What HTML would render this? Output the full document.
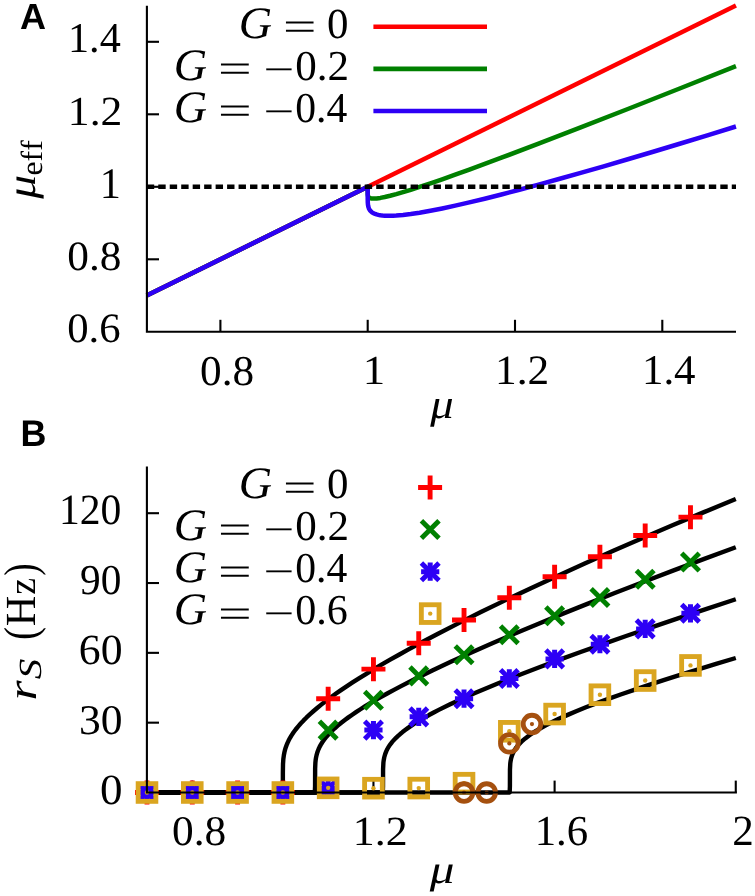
<!DOCTYPE html><html><head><meta charset="utf-8"><style>html,body{margin:0;padding:0;background:#fff;}svg text{font-kerning:none;text-rendering:geometricPrecision;} svg{will-change:transform;}</style></head><body><svg width="755" height="896" viewBox="0 0 755 896" style="display:block">
<rect width="755" height="896" fill="#fff"/>
<line x1="146.9" y1="259.30" x2="159" y2="259.30" stroke="#000" stroke-width="2.1"/>
<line x1="146.9" y1="186.80" x2="159" y2="186.80" stroke="#000" stroke-width="2.1"/>
<line x1="146.9" y1="114.30" x2="159" y2="114.30" stroke="#000" stroke-width="2.1"/>
<line x1="146.9" y1="41.80" x2="159" y2="41.80" stroke="#000" stroke-width="2.1"/>
<line x1="220.40" y1="331.8" x2="220.40" y2="319.8" stroke="#000" stroke-width="2.1"/>
<line x1="367.70" y1="331.8" x2="367.70" y2="319.8" stroke="#000" stroke-width="2.1"/>
<line x1="515.00" y1="331.8" x2="515.00" y2="319.8" stroke="#000" stroke-width="2.1"/>
<line x1="662.30" y1="331.8" x2="662.30" y2="319.8" stroke="#000" stroke-width="2.1"/>
<path d="M146.75,295.55 L735.95,5.55" fill="none" stroke="#ff0000" stroke-width="4.5" stroke-linejoin="round"/>
<path d="M146.75,295.55 L367.70,186.80 L367.71,193.04 L367.77,194.55 L367.99,195.80 L368.29,196.54 L368.88,197.31 L369.47,197.75 L370.06,198.04 L370.65,198.24 L371.53,198.43 L373.59,198.59 L376.54,198.44 L380.37,197.91 L384.79,197.04 L390.09,195.79 L396.28,194.14 L403.05,192.17 L410.71,189.82 L419.55,186.97 L430.45,183.33 L442.23,179.27 L455.20,174.68 L469.34,169.58 L501.45,157.72 L538.57,143.67 L580.70,127.43 L627.83,109.00 L679.68,88.50 L735.95,66.04" fill="none" stroke="#008000" stroke-width="4.5" stroke-linejoin="round"/>
<path d="M146.75,295.55 L367.70,186.80 L367.71,199.28 L367.77,202.34 L367.99,204.95 L368.29,206.56 L368.88,208.39 L369.47,209.57 L370.06,210.44 L370.65,211.13 L371.53,211.95 L372.41,212.59 L373.59,213.27 L375.07,213.93 L376.54,214.43 L378.31,214.88 L380.37,215.25 L382.43,215.51 L384.79,215.70 L387.44,215.80 L390.09,215.80 L393.04,215.72 L396.28,215.54 L403.05,214.95 L410.71,214.01 L419.55,212.67 L430.45,210.75 L442.23,208.42 L455.20,205.63 L469.34,202.39 L484.66,198.70 L501.45,194.47 L519.42,189.78 L538.57,184.64 L558.90,179.03 L580.70,172.89 L603.67,166.29 L627.83,159.24 L653.17,151.72 L679.68,143.75 L707.37,135.32 L735.95,126.52" fill="none" stroke="#2d00f5" stroke-width="4.5" stroke-linejoin="round"/>
<line x1="146.8" y1="186.80" x2="736" y2="186.80" stroke="#000" stroke-width="4.5" stroke-dasharray="7.4 4.07"/>
<line x1="373.4" y1="26.8" x2="487" y2="26.8" stroke="#ff0000" stroke-width="4.6"/>
<line x1="373.4" y1="68.9" x2="487" y2="68.9" stroke="#008000" stroke-width="4.6"/>
<line x1="373.4" y1="111.0" x2="487" y2="111.0" stroke="#2d00f5" stroke-width="4.6"/>
<path d="M146.9,5.8 V332.85 M145.85,331.8 H736.0" stroke="#000" stroke-width="2.1" fill="none"/>
<line x1="146.9" y1="722.67" x2="159" y2="722.67" stroke="#000" stroke-width="2.1"/>
<line x1="146.9" y1="652.85" x2="159" y2="652.85" stroke="#000" stroke-width="2.1"/>
<line x1="146.9" y1="583.02" x2="159" y2="583.02" stroke="#000" stroke-width="2.1"/>
<line x1="146.9" y1="513.20" x2="159" y2="513.20" stroke="#000" stroke-width="2.1"/>
<line x1="192.29" y1="792.5" x2="192.29" y2="780.6" stroke="#000" stroke-width="2.1"/>
<line x1="373.45" y1="792.5" x2="373.45" y2="780.6" stroke="#000" stroke-width="2.1"/>
<line x1="554.61" y1="792.5" x2="554.61" y2="780.6" stroke="#000" stroke-width="2.1"/>
<line x1="735.77" y1="792.5" x2="735.77" y2="780.6" stroke="#000" stroke-width="2.1"/>
<path d="M147.00,792.50 L282.87,792.50 L282.87,772.46 L283.01,764.16 L283.32,759.29 L283.89,754.95 L284.48,751.98 L285.07,749.66 L285.66,747.72 L286.54,745.23 L287.42,743.09 L288.60,740.58 L290.07,737.83 L291.54,735.38 L293.60,732.29 L295.66,729.50 L298.02,726.58 L300.67,723.54 L303.61,720.40 L306.56,717.46 L310.09,714.14 L313.62,710.99 L317.45,707.74 L321.57,704.40 L325.99,700.96 L330.70,697.44 L335.70,693.83 L341.00,690.14 L346.59,686.36 L352.19,682.68 L358.96,678.36 L366.32,673.78 L373.97,669.16 L381.92,664.46 L390.16,659.71 L398.99,654.72 L408.12,649.67 L417.54,644.55 L437.56,633.96 L458.75,623.10 L481.42,611.82 L505.56,600.11 L530.88,588.14 L557.37,575.89 L584.75,563.50 L613.31,550.84 L642.74,538.04 L673.07,525.10 L703.98,512.15 L735.77,499.05" fill="none" stroke="#000" stroke-width="4.4" stroke-linejoin="round"/>
<path d="M147.00,792.50 L314.80,792.50 L315.08,786.06 L315.13,768.54 L315.39,762.66 L315.68,759.84 L315.98,757.90 L316.57,755.09 L317.15,752.96 L317.74,751.20 L318.63,748.98 L319.61,746.88 L320.69,744.88 L322.16,742.48 L323.93,739.95 L325.69,737.68 L327.75,735.27 L329.81,733.05 L332.17,730.70 L334.82,728.23 L337.76,725.66 L341.00,723.00 L344.53,720.25 L348.06,717.64 L351.89,714.93 L356.01,712.13 L360.43,709.25 L364.84,706.47 L369.85,703.42 L374.85,700.46 L380.74,697.09 L387.22,693.48 L393.99,689.82 L401.05,686.09 L416.36,678.31 L432.85,670.27 L450.81,661.84 L470.23,653.00 L491.14,643.78 L513.21,634.29 L536.77,624.41 L561.79,614.14 L587.99,603.60 L615.37,592.79 L643.92,581.72 L673.65,570.38 L704.27,558.88 L735.77,547.23" fill="none" stroke="#000" stroke-width="4.4" stroke-linejoin="round"/>
<path d="M147.00,792.50 L382.80,792.50 L383.03,786.06 L383.08,769.02 L383.39,762.81 L383.48,761.92 L383.69,760.36 L384.27,757.24 L385.16,754.12 L386.34,751.11 L387.22,749.29 L388.10,747.70 L389.28,745.83 L390.75,743.76 L392.22,741.92 L393.99,739.91 L395.76,738.08 L397.82,736.11 L400.17,734.02 L402.53,732.08 L405.18,730.03 L408.12,727.88 L411.06,725.85 L414.30,723.72 L421.37,719.38 L429.02,715.04 L433.73,712.51 L438.74,709.92 L449.63,704.55 L461.70,698.92 L474.94,693.06 L489.37,686.95 L504.97,680.58 L521.75,673.96 L540.00,666.98 L559.73,659.63 L580.63,652.03 L603.00,644.06 L626.85,635.74 L652.16,627.05 L678.66,618.11 L706.63,608.81 L735.77,599.25" fill="none" stroke="#000" stroke-width="4.4" stroke-linejoin="round"/>
<path d="M147.00,792.50 L509.68,792.50 L509.91,786.06 L509.96,769.51 L510.27,763.59 L510.57,761.27 L511.15,758.33 L512.04,755.41 L512.92,753.24 L513.51,752.02 L514.44,750.33 L515.28,749.00 L516.45,747.33 L517.63,745.84 L518.81,744.48 L520.28,742.91 L521.75,741.48 L523.52,739.88 L525.28,738.40 L529.11,735.47 L533.53,732.46 L538.24,729.54 L544.42,726.04 L551.19,722.52 L558.84,718.83 L567.09,715.12 L576.21,711.24 L585.93,707.32 L596.82,703.13 L608.30,698.89 L620.67,694.50 L634.21,689.84 L648.34,685.13 L663.65,680.15 L680.13,674.93 L697.50,669.54 L716.05,663.90 L735.77,658.00" fill="none" stroke="#000" stroke-width="4.4" stroke-linejoin="round"/>
<path d="M135.00,792.50 H159.00 M147.00,780.50 V804.50" stroke="#ff0000" stroke-width="4.9" fill="none"/>
<path d="M180.29,792.50 H204.29 M192.29,780.50 V804.50" stroke="#ff0000" stroke-width="4.9" fill="none"/>
<path d="M225.58,792.50 H249.58 M237.58,780.50 V804.50" stroke="#ff0000" stroke-width="4.9" fill="none"/>
<path d="M270.87,792.50 H294.87 M282.87,780.50 V804.50" stroke="#ff0000" stroke-width="4.9" fill="none"/>
<path d="M316.16,698.70 H340.16 M328.16,686.70 V710.70" stroke="#ff0000" stroke-width="4.9" fill="none"/>
<path d="M361.45,669.14 H385.45 M373.45,657.14 V681.14" stroke="#ff0000" stroke-width="4.9" fill="none"/>
<path d="M406.74,643.31 H430.74 M418.74,631.31 V655.31" stroke="#ff0000" stroke-width="4.9" fill="none"/>
<path d="M452.03,620.03 H476.03 M464.03,608.03 V632.03" stroke="#ff0000" stroke-width="4.9" fill="none"/>
<path d="M497.32,597.69 H521.32 M509.32,585.69 V609.69" stroke="#ff0000" stroke-width="4.9" fill="none"/>
<path d="M542.61,576.74 H566.61 M554.61,564.74 V588.74" stroke="#ff0000" stroke-width="4.9" fill="none"/>
<path d="M587.90,556.72 H611.90 M599.90,544.72 V568.72" stroke="#ff0000" stroke-width="4.9" fill="none"/>
<path d="M633.19,535.54 H657.19 M645.19,523.54 V547.54" stroke="#ff0000" stroke-width="4.9" fill="none"/>
<path d="M678.48,517.16 H702.48 M690.48,505.16 V529.16" stroke="#ff0000" stroke-width="4.9" fill="none"/>
<path d="M138.20,783.70 L155.80,801.30 M138.20,801.30 L155.80,783.70" stroke="#008000" stroke-width="4.9" fill="none"/>
<path d="M183.49,783.70 L201.09,801.30 M183.49,801.30 L201.09,783.70" stroke="#008000" stroke-width="4.9" fill="none"/>
<path d="M228.78,783.70 L246.38,801.30 M228.78,801.30 L246.38,783.70" stroke="#008000" stroke-width="4.9" fill="none"/>
<path d="M274.07,783.70 L291.67,801.30 M274.07,801.30 L291.67,783.70" stroke="#008000" stroke-width="4.9" fill="none"/>
<path d="M319.36,721.32 L336.96,738.92 M319.36,738.92 L336.96,721.32" stroke="#008000" stroke-width="4.9" fill="none"/>
<path d="M364.65,691.53 L382.25,709.13 M364.65,709.13 L382.25,691.53" stroke="#008000" stroke-width="4.9" fill="none"/>
<path d="M409.94,667.09 L427.54,684.69 M409.94,684.69 L427.54,667.09" stroke="#008000" stroke-width="4.9" fill="none"/>
<path d="M455.23,645.91 L472.83,663.51 M455.23,663.51 L472.83,645.91" stroke="#008000" stroke-width="4.9" fill="none"/>
<path d="M500.52,625.90 L518.12,643.50 M500.52,643.50 L518.12,625.90" stroke="#008000" stroke-width="4.9" fill="none"/>
<path d="M545.81,607.04 L563.41,624.64 M545.81,624.64 L563.41,607.04" stroke="#008000" stroke-width="4.9" fill="none"/>
<path d="M591.10,588.66 L608.70,606.26 M591.10,606.26 L608.70,588.66" stroke="#008000" stroke-width="4.9" fill="none"/>
<path d="M636.39,570.50 L653.99,588.10 M636.39,588.10 L653.99,570.50" stroke="#008000" stroke-width="4.9" fill="none"/>
<path d="M681.68,553.28 L699.28,570.88 M681.68,570.88 L699.28,553.28" stroke="#008000" stroke-width="4.9" fill="none"/>
<path d="M138.20,783.70 L155.80,801.30 M138.20,801.30 L155.80,783.70" stroke="#2d00f5" stroke-width="4.9" fill="none"/><path d="M137.90,792.50 H156.10 M147.00,783.40 V801.60" stroke="#2d00f5" stroke-width="5.0" fill="none"/>
<path d="M183.49,783.70 L201.09,801.30 M183.49,801.30 L201.09,783.70" stroke="#2d00f5" stroke-width="4.9" fill="none"/><path d="M183.19,792.50 H201.39 M192.29,783.40 V801.60" stroke="#2d00f5" stroke-width="5.0" fill="none"/>
<path d="M228.78,783.70 L246.38,801.30 M228.78,801.30 L246.38,783.70" stroke="#2d00f5" stroke-width="4.9" fill="none"/><path d="M228.48,792.50 H246.68 M237.58,783.40 V801.60" stroke="#2d00f5" stroke-width="5.0" fill="none"/>
<path d="M274.07,783.70 L291.67,801.30 M274.07,801.30 L291.67,783.70" stroke="#2d00f5" stroke-width="4.9" fill="none"/><path d="M273.77,792.50 H291.97 M282.87,783.40 V801.60" stroke="#2d00f5" stroke-width="5.0" fill="none"/>
<path d="M319.36,779.74 L336.96,797.34 M319.36,797.34 L336.96,779.74" stroke="#2d00f5" stroke-width="4.9" fill="none"/><path d="M319.06,788.54 H337.26 M328.16,779.44 V797.64" stroke="#2d00f5" stroke-width="5.0" fill="none"/>
<path d="M364.65,721.32 L382.25,738.92 M364.65,738.92 L382.25,721.32" stroke="#2d00f5" stroke-width="4.9" fill="none"/><path d="M364.35,730.12 H382.55 M373.45,721.02 V739.22" stroke="#2d00f5" stroke-width="5.0" fill="none"/>
<path d="M409.94,708.06 L427.54,725.66 M409.94,725.66 L427.54,708.06" stroke="#2d00f5" stroke-width="4.9" fill="none"/><path d="M409.64,716.86 H427.84 M418.74,707.76 V725.96" stroke="#2d00f5" stroke-width="5.0" fill="none"/>
<path d="M455.23,689.90 L472.83,707.50 M455.23,707.50 L472.83,689.90" stroke="#2d00f5" stroke-width="4.9" fill="none"/><path d="M454.93,698.70 H473.13 M464.03,689.60 V707.80" stroke="#2d00f5" stroke-width="5.0" fill="none"/>
<path d="M500.52,669.65 L518.12,687.25 M500.52,687.25 L518.12,669.65" stroke="#2d00f5" stroke-width="4.9" fill="none"/><path d="M500.22,678.45 H518.42 M509.32,669.35 V687.55" stroke="#2d00f5" stroke-width="5.0" fill="none"/>
<path d="M545.81,650.10 L563.41,667.70 M545.81,667.70 L563.41,650.10" stroke="#2d00f5" stroke-width="4.9" fill="none"/><path d="M545.51,658.90 H563.71 M554.61,649.80 V668.00" stroke="#2d00f5" stroke-width="5.0" fill="none"/>
<path d="M591.10,635.44 L608.70,653.04 M591.10,653.04 L608.70,635.44" stroke="#2d00f5" stroke-width="4.9" fill="none"/><path d="M590.80,644.24 H609.00 M599.90,635.14 V653.34" stroke="#2d00f5" stroke-width="5.0" fill="none"/>
<path d="M636.39,620.08 L653.99,637.68 M636.39,637.68 L653.99,620.08" stroke="#2d00f5" stroke-width="4.9" fill="none"/><path d="M636.09,628.88 H654.29 M645.19,619.78 V637.98" stroke="#2d00f5" stroke-width="5.0" fill="none"/>
<path d="M681.68,604.48 L699.28,622.08 M681.68,622.08 L699.28,604.48" stroke="#2d00f5" stroke-width="4.9" fill="none"/><path d="M681.38,613.28 H699.58 M690.48,604.18 V622.38" stroke="#2d00f5" stroke-width="5.0" fill="none"/>
<rect x="138.15" y="783.65" width="17.70" height="17.70" stroke="#daa520" stroke-width="4.85" fill="none"/><circle cx="147.00" cy="792.50" r="2.2" fill="#daa520"/>
<rect x="183.44" y="783.65" width="17.70" height="17.70" stroke="#daa520" stroke-width="4.85" fill="none"/><circle cx="192.29" cy="792.50" r="2.2" fill="#daa520"/>
<rect x="228.73" y="783.65" width="17.70" height="17.70" stroke="#daa520" stroke-width="4.85" fill="none"/><circle cx="237.58" cy="792.50" r="2.2" fill="#daa520"/>
<rect x="274.02" y="783.65" width="17.70" height="17.70" stroke="#daa520" stroke-width="4.85" fill="none"/><circle cx="282.87" cy="792.50" r="2.2" fill="#daa520"/>
<rect x="319.31" y="779.00" width="17.70" height="17.70" stroke="#daa520" stroke-width="4.85" fill="none"/><circle cx="328.16" cy="787.85" r="2.2" fill="#daa520"/>
<rect x="364.60" y="779.34" width="17.70" height="17.70" stroke="#daa520" stroke-width="4.85" fill="none"/><circle cx="373.45" cy="788.19" r="2.2" fill="#daa520"/>
<rect x="409.89" y="779.23" width="17.70" height="17.70" stroke="#daa520" stroke-width="4.85" fill="none"/><circle cx="418.74" cy="788.08" r="2.2" fill="#daa520"/>
<rect x="455.18" y="774.34" width="17.70" height="17.70" stroke="#daa520" stroke-width="4.85" fill="none"/><circle cx="464.03" cy="783.19" r="2.2" fill="#daa520"/>
<rect x="500.47" y="722.44" width="17.70" height="17.70" stroke="#daa520" stroke-width="4.85" fill="none"/><circle cx="509.32" cy="731.29" r="2.2" fill="#daa520"/>
<rect x="545.76" y="705.21" width="17.70" height="17.70" stroke="#daa520" stroke-width="4.85" fill="none"/><circle cx="554.61" cy="714.06" r="2.2" fill="#daa520"/>
<rect x="591.05" y="685.89" width="17.70" height="17.70" stroke="#daa520" stroke-width="4.85" fill="none"/><circle cx="599.90" cy="694.75" r="2.2" fill="#daa520"/>
<rect x="636.34" y="671.70" width="17.70" height="17.70" stroke="#daa520" stroke-width="4.85" fill="none"/><circle cx="645.19" cy="680.55" r="2.2" fill="#daa520"/>
<rect x="681.63" y="656.57" width="17.70" height="17.70" stroke="#daa520" stroke-width="4.85" fill="none"/><circle cx="690.48" cy="665.42" r="2.2" fill="#daa520"/>
<circle cx="464.03" cy="792.50" r="8.8" stroke="#a5500f" stroke-width="4.85" fill="none"/><circle cx="464.03" cy="792.50" r="2.1" fill="#a5500f"/>
<circle cx="486.67" cy="792.50" r="8.8" stroke="#a5500f" stroke-width="4.85" fill="none"/><circle cx="486.67" cy="792.50" r="2.1" fill="#a5500f"/>
<circle cx="509.32" cy="743.39" r="8.8" stroke="#a5500f" stroke-width="4.85" fill="none"/><circle cx="509.32" cy="743.39" r="2.1" fill="#a5500f"/>
<circle cx="531.97" cy="724.07" r="8.8" stroke="#a5500f" stroke-width="4.85" fill="none"/><circle cx="531.97" cy="724.07" r="2.1" fill="#a5500f"/>
<path d="M418.10,487.50 H442.10 M430.10,475.50 V499.50" stroke="#ff0000" stroke-width="4.9" fill="none"/>
<path d="M421.40,520.70 L439.00,538.30 M421.40,538.30 L439.00,520.70" stroke="#008000" stroke-width="4.9" fill="none"/>
<path d="M421.40,562.90 L439.00,580.50 M421.40,580.50 L439.00,562.90" stroke="#2d00f5" stroke-width="4.9" fill="none"/><path d="M421.10,571.70 H439.30 M430.20,562.60 V580.80" stroke="#2d00f5" stroke-width="5.0" fill="none"/>
<rect x="421.35" y="604.75" width="17.70" height="17.70" stroke="#daa520" stroke-width="4.85" fill="none"/><circle cx="430.20" cy="613.60" r="2.2" fill="#daa520"/>
<path d="M146.9,466.6 V793.55 M145.85,792.5 H736.9" stroke="#000" stroke-width="2.1" fill="none"/>
<text transform="translate(20.00,29.10) scale(0.9887,1)" font-size="36.48" style="font-family:'Liberation Sans', sans-serif;font-style:normal;font-weight:bold" fill="#000">A</text>
<text transform="translate(20.50,445.60) scale(0.9651,1)" font-size="37.21" style="font-family:'Liberation Sans', sans-serif;font-style:normal;font-weight:bold" fill="#000">B</text>
<text transform="translate(67.99,52.30) scale(0.9953,1)" font-size="42.41" style="font-family:'Liberation Serif', serif;font-style:normal;font-weight:normal" fill="#000">1.4</text>
<text transform="translate(67.87,124.71) scale(1.0517,1)" font-size="41.40" style="font-family:'Liberation Serif', serif;font-style:normal;font-weight:normal" fill="#000">1.2</text>
<text transform="translate(99.78,198.20) scale(0.9735,1)" font-size="43.47" style="font-family:'Liberation Serif', serif;font-style:normal;font-weight:normal" fill="#000">1</text>
<text transform="translate(67.25,270.11) scale(1.0370,1)" font-size="41.81" style="font-family:'Liberation Serif', serif;font-style:normal;font-weight:normal" fill="#000">0.8</text>
<text transform="translate(67.27,342.21) scale(1.0217,1)" font-size="41.81" style="font-family:'Liberation Serif', serif;font-style:normal;font-weight:normal" fill="#000">0.6</text>
<text transform="translate(200.05,384.50) scale(1.0206,1)" font-size="42.40" style="font-family:'Liberation Serif', serif;font-style:normal;font-weight:normal" fill="#000">0.8</text>
<text transform="translate(362.86,384.30) scale(1.0893,1)" font-size="41.20" style="font-family:'Liberation Serif', serif;font-style:normal;font-weight:normal" fill="#000">1</text>
<text transform="translate(495.00,383.81) scale(1.0341,1)" font-size="41.85" style="font-family:'Liberation Serif', serif;font-style:normal;font-weight:normal" fill="#000">1.2</text>
<text transform="translate(641.93,383.80) scale(1.0154,1)" font-size="42.27" style="font-family:'Liberation Serif', serif;font-style:normal;font-weight:normal" fill="#000">1.4</text>
<text transform="translate(430.35,418.16) scale(1.1284,1)" font-size="41.32" style="font-family:'Liberation Serif', serif;font-style:italic;font-weight:normal" fill="#000">μ</text>
<text transform="translate(35.25,198.70) rotate(-90) scale(1.1770,1)" font-size="40.42" style="font-family:'Liberation Serif', serif;font-style:italic;font-weight:normal" fill="#000">μ</text>
<text transform="translate(41.80,175.44) rotate(-90) scale(1.0367,1)" font-size="30.54" style="font-family:'Liberation Serif', serif;font-style:normal;font-weight:normal" fill="#000">eff</text>
<text transform="translate(238.75,37.51) scale(1.0290,1)" font-size="44.87" style="font-family:'Liberation Serif', serif;font-style:italic;font-weight:normal" fill="#000">G</text>
<text transform="translate(283.05,40.21) scale(1.4681,1)" font-size="40.40" style="font-family:'Liberation Serif', serif;font-style:normal;font-weight:normal" fill="#000">=</text>
<text transform="translate(327.06,37.68) scale(1.0027,1)" font-size="42.83" style="font-family:'Liberation Serif', serif;font-style:normal;font-weight:normal" fill="#000">0</text>
<text transform="translate(173.75,79.61) scale(1.0290,1)" font-size="44.87" style="font-family:'Liberation Serif', serif;font-style:italic;font-weight:normal" fill="#000">G</text>
<text transform="translate(217.92,82.31) scale(1.4788,1)" font-size="40.40" style="font-family:'Liberation Serif', serif;font-style:normal;font-weight:normal" fill="#000">=</text>
<text transform="translate(263.38,81.57) scale(1.4308,1)" font-size="38.15" style="font-family:'Liberation Serif', serif;font-style:normal;font-weight:normal" fill="#000">−</text>
<text transform="translate(295.16,79.60) scale(1.0118,1)" font-size="42.55" style="font-family:'Liberation Serif', serif;font-style:normal;font-weight:normal" fill="#000">0.2</text>
<text transform="translate(173.75,121.71) scale(1.0290,1)" font-size="44.87" style="font-family:'Liberation Serif', serif;font-style:italic;font-weight:normal" fill="#000">G</text>
<text transform="translate(217.92,124.41) scale(1.4788,1)" font-size="40.40" style="font-family:'Liberation Serif', serif;font-style:normal;font-weight:normal" fill="#000">=</text>
<text transform="translate(263.38,123.67) scale(1.4308,1)" font-size="38.15" style="font-family:'Liberation Serif', serif;font-style:normal;font-weight:normal" fill="#000">−</text>
<text transform="translate(295.21,121.70) scale(0.9783,1)" font-size="42.55" style="font-family:'Liberation Serif', serif;font-style:normal;font-weight:normal" fill="#000">0.4</text>
<text transform="translate(58.94,524.18) scale(0.9654,1)" font-size="43.12" style="font-family:'Liberation Serif', serif;font-style:normal;font-weight:normal" fill="#000">120</text>
<text transform="translate(80.07,593.88) scale(0.9678,1)" font-size="42.68" style="font-family:'Liberation Serif', serif;font-style:normal;font-weight:normal" fill="#000">90</text>
<text transform="translate(78.82,664.18) scale(1.0179,1)" font-size="42.98" style="font-family:'Liberation Serif', serif;font-style:normal;font-weight:normal" fill="#000">60</text>
<text transform="translate(79.02,734.09) scale(1.0310,1)" font-size="42.23" style="font-family:'Liberation Serif', serif;font-style:normal;font-weight:normal" fill="#000">30</text>
<text transform="translate(100.08,803.68) scale(1.0486,1)" font-size="42.98" style="font-family:'Liberation Serif', serif;font-style:normal;font-weight:normal" fill="#000">0</text>
<text transform="translate(171.95,845.40) scale(1.0262,1)" font-size="42.26" style="font-family:'Liberation Serif', serif;font-style:normal;font-weight:normal" fill="#000">0.8</text>
<text transform="translate(352.85,844.71) scale(1.0545,1)" font-size="41.55" style="font-family:'Liberation Serif', serif;font-style:normal;font-weight:normal" fill="#000">1.2</text>
<text transform="translate(534.64,845.19) scale(1.0023,1)" font-size="42.73" style="font-family:'Liberation Serif', serif;font-style:normal;font-weight:normal" fill="#000">1.6</text>
<text transform="translate(732.20,845.40) scale(1.0026,1)" font-size="43.04" style="font-family:'Liberation Serif', serif;font-style:normal;font-weight:normal" fill="#000">2</text>
<text transform="translate(429.85,883.29) scale(1.2210,1)" font-size="40.28" style="font-family:'Liberation Serif', serif;font-style:italic;font-weight:normal" fill="#000">μ</text>
<text transform="translate(35.50,700.39) rotate(-90) scale(1.2505,1)" font-size="41.17" style="font-family:'Liberation Serif', serif;font-style:italic;font-weight:normal" fill="#000">r</text>
<text transform="translate(41.48,679.28) rotate(-90) scale(1.2721,1)" font-size="32.30" style="font-family:'Liberation Serif', serif;font-style:italic;font-weight:normal" fill="#000">S</text>
<text transform="translate(35.92,639.91) rotate(-90) scale(0.8386,1)" font-size="46.43" style="font-family:'Liberation Serif', serif;font-style:normal;font-weight:normal" fill="#000">(</text>
<text transform="translate(35.00,626.22) rotate(-90) scale(0.9860,1)" font-size="42.91" style="font-family:'Liberation Serif', serif;font-style:normal;font-weight:normal" fill="#000">H</text>
<text transform="translate(35.00,594.72) rotate(-90) scale(0.9697,1)" font-size="39.22" style="font-family:'Liberation Serif', serif;font-style:normal;font-weight:normal" fill="#000">z</text>
<text transform="translate(35.92,575.79) rotate(-90) scale(0.7967,1)" font-size="46.43" style="font-family:'Liberation Serif', serif;font-style:normal;font-weight:normal" fill="#000">)</text>
<text transform="translate(238.75,498.21) scale(1.0290,1)" font-size="44.87" style="font-family:'Liberation Serif', serif;font-style:italic;font-weight:normal" fill="#000">G</text>
<text transform="translate(283.05,500.91) scale(1.4681,1)" font-size="40.40" style="font-family:'Liberation Serif', serif;font-style:normal;font-weight:normal" fill="#000">=</text>
<text transform="translate(327.06,498.38) scale(1.0027,1)" font-size="42.83" style="font-family:'Liberation Serif', serif;font-style:normal;font-weight:normal" fill="#000">0</text>
<text transform="translate(173.75,540.21) scale(1.0290,1)" font-size="44.87" style="font-family:'Liberation Serif', serif;font-style:italic;font-weight:normal" fill="#000">G</text>
<text transform="translate(217.92,542.91) scale(1.4788,1)" font-size="40.40" style="font-family:'Liberation Serif', serif;font-style:normal;font-weight:normal" fill="#000">=</text>
<text transform="translate(263.38,542.17) scale(1.4308,1)" font-size="38.15" style="font-family:'Liberation Serif', serif;font-style:normal;font-weight:normal" fill="#000">−</text>
<text transform="translate(295.16,540.20) scale(1.0118,1)" font-size="42.55" style="font-family:'Liberation Serif', serif;font-style:normal;font-weight:normal" fill="#000">0.2</text>
<text transform="translate(173.75,582.41) scale(1.0290,1)" font-size="44.87" style="font-family:'Liberation Serif', serif;font-style:italic;font-weight:normal" fill="#000">G</text>
<text transform="translate(217.92,585.11) scale(1.4788,1)" font-size="40.40" style="font-family:'Liberation Serif', serif;font-style:normal;font-weight:normal" fill="#000">=</text>
<text transform="translate(263.38,584.37) scale(1.4308,1)" font-size="38.15" style="font-family:'Liberation Serif', serif;font-style:normal;font-weight:normal" fill="#000">−</text>
<text transform="translate(295.21,582.40) scale(0.9783,1)" font-size="42.55" style="font-family:'Liberation Serif', serif;font-style:normal;font-weight:normal" fill="#000">0.4</text>
<text transform="translate(173.75,624.31) scale(1.0290,1)" font-size="44.87" style="font-family:'Liberation Serif', serif;font-style:italic;font-weight:normal" fill="#000">G</text>
<text transform="translate(217.92,627.01) scale(1.4788,1)" font-size="40.40" style="font-family:'Liberation Serif', serif;font-style:normal;font-weight:normal" fill="#000">=</text>
<text transform="translate(263.38,626.27) scale(1.4308,1)" font-size="38.15" style="font-family:'Liberation Serif', serif;font-style:normal;font-weight:normal" fill="#000">−</text>
<text transform="translate(295.20,624.30) scale(0.9901,1)" font-size="42.55" style="font-family:'Liberation Serif', serif;font-style:normal;font-weight:normal" fill="#000">0.6</text>
</svg></body></html>
